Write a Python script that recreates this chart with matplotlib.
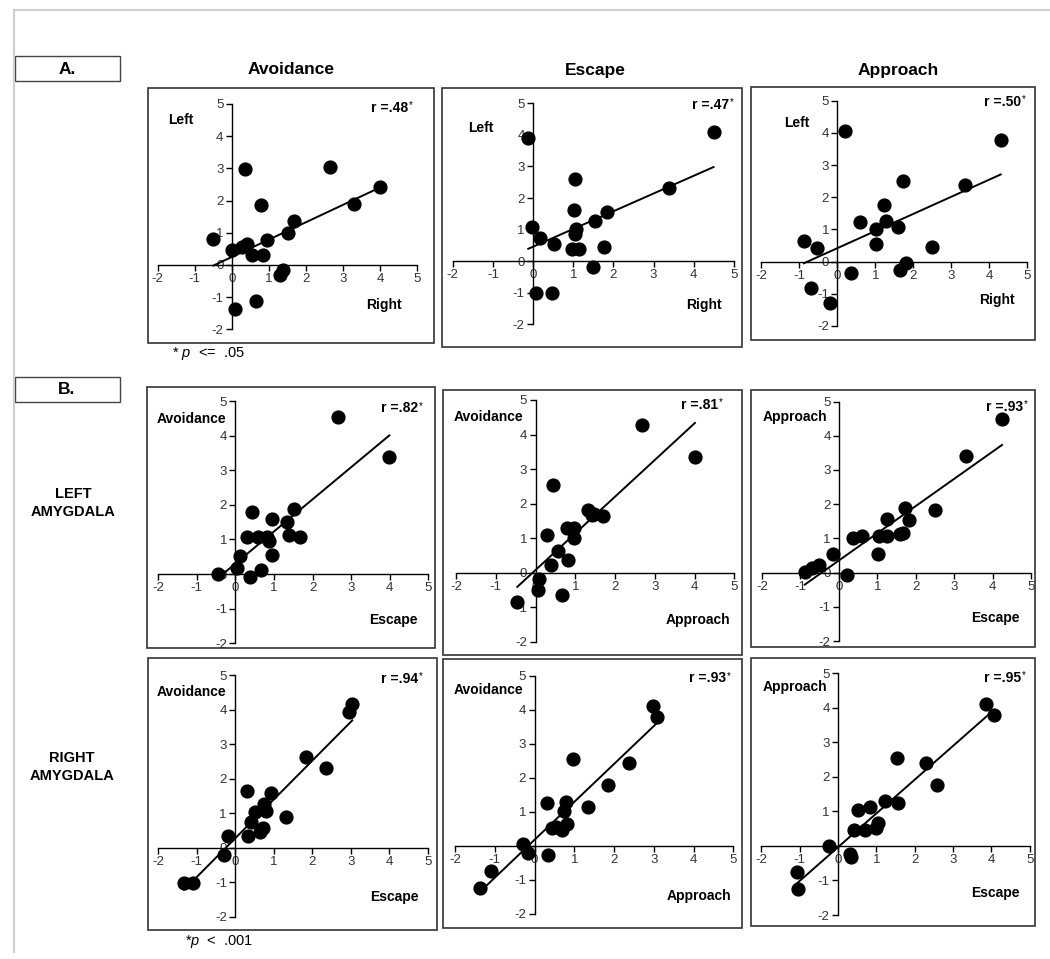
import numpy as np
import matplotlib.pyplot as plt
from matplotlib.patches import Rectangle
from matplotlib.lines import Line2D

plt.rcParams['font.family'] = ['Liberation Sans', 'DejaVu Sans']
plt.rcParams['mathtext.fontset'] = 'custom'
plt.rcParams['mathtext.rm'] = 'Liberation Sans'
plt.rcParams['mathtext.it'] = 'Liberation Sans:italic'
plt.rcParams['axes.unicode_minus'] = False

W, H = 1050, 959

###################### data

# A. left vs right amygdala
avoid_lr_x = [-0.50, 0.01, 0.26, 0.42, 0.55, 0.83, 0.96, 0.35, 0.79, 1.51, 1.67, 1.37, 1.30, 0.09, 0.65, 2.65, 3.28, 4.00]
avoid_lr_y = [0.80, 0.45, 0.55, 0.64, 0.31, 0.31, 0.76, 2.97, 1.86, 0.98, 1.35, -0.16, -0.31, -1.36, -1.12, 3.05, 1.89, 2.41]

escape_lr_x = [-0.12, -0.03, 0.17, 0.52, 0.07, 0.46, 1.04, 1.03, 1.07, 1.04, 0.98, 1.14, 1.53, 1.83, 1.77, 1.50, 3.39, 4.49]
escape_lr_y = [3.91, 1.07, 0.72, 0.54, -1.02, -1.02, 2.60, 1.62, 1.02, 0.86, 0.37, 0.37, 1.27, 1.55, 0.44, -0.17, 2.31, 4.10]

approach_lr_x = [0.21, -0.88, -0.53, -0.70, -0.18, 0.37, 0.61, 1.01, 1.03, 1.23, 1.27, 1.61, 1.73, 1.64, 1.82, 2.50, 3.35, 4.30]
approach_lr_y = [4.06, 0.64, 0.43, -0.81, -1.29, -0.34, 1.22, 1.01, 0.54, 1.76, 1.26, 1.09, 2.51, -0.26, -0.05, 0.45, 2.38, 3.78]

# B. left amygdala
left_av_esc_x = [-0.46, 0.03, 0.12, 0.39, 0.66, 0.29, 0.58, 0.81, 0.87, 0.44, 0.94, 0.94, 1.33, 1.39, 1.52, 1.67, 2.67, 3.99]
left_av_esc_y = [0.00, 0.18, 0.52, -0.08, 0.12, 1.08, 1.06, 1.08, 0.96, 1.80, 1.58, 0.55, 1.49, 1.13, 1.87, 1.08, 4.53, 3.39]

left_av_app_x = [-0.46, 0.05, 0.10, 0.66, 0.39, 0.57, 0.82, 0.30, 0.45, 0.78, 0.98, 0.98, 1.33, 1.48, 1.69, 1.41, 2.67, 4.01]
left_av_app_y = [-0.85, -0.49, -0.17, -0.66, 0.23, 0.63, 0.38, 1.08, 2.53, 1.28, 1.29, 1.00, 1.81, 1.71, 1.63, 1.66, 4.29, 3.35]

left_app_esc_x = [-0.89, -0.69, -0.52, -0.16, 0.21, 0.36, 0.61, 1.01, 1.04, 1.26, 1.26, 1.60, 1.66, 1.71, 1.81, 2.50, 3.31, 4.24]
left_app_esc_y = [0.01, 0.15, 0.22, 0.54, -0.07, 1.00, 1.07, 0.56, 1.07, 1.56, 1.07, 1.12, 1.17, 1.88, 1.54, 1.83, 3.41, 4.49]

# B. right amygdala
right_av_esc_x = [-1.33, -1.09, -0.29, -0.18, 0.34, 0.31, 0.42, 0.51, 0.64, 0.73, 0.75, 0.79, 0.94, 1.33, 1.83, 2.36, 2.96, 3.04]
right_av_esc_y = [-1.03, -1.03, -0.21, 0.35, 0.35, 1.65, 0.75, 1.04, 0.46, 0.58, 1.26, 1.06, 1.57, 0.88, 2.62, 2.32, 3.92, 4.15]

right_av_app_x = [-1.37, -1.10, -0.28, -0.16, 0.35, 0.31, 0.43, 0.54, 0.68, 0.73, 0.79, 0.81, 0.98, 1.34, 1.86, 2.38, 2.97, 3.07]
right_av_app_y = [-1.24, -0.75, 0.04, -0.21, -0.27, 1.25, 0.51, 0.56, 0.46, 1.02, 1.29, 0.63, 2.55, 1.13, 1.80, 2.42, 4.12, 3.79]

right_app_esc_x = [-1.06, -1.04, -0.23, 0.32, 0.33, 0.43, 0.70, 0.52, 0.83, 0.98, 1.04, 1.22, 1.57, 1.54, 2.29, 2.57, 3.87, 4.07]
right_app_esc_y = [-0.76, -1.25, 0.00, -0.24, -0.31, 0.46, 0.46, 1.04, 1.12, 0.53, 0.66, 1.30, 1.24, 2.54, 2.39, 1.77, 4.10, 3.79]

r_labels = ['r =.48', 'r =.47', 'r =.50',
            'r =.82', 'r =.81', 'r =.93',
            'r =.94', 'r =.93', 'r =.95']
y_names = ['Left', 'Left', 'Left',
           'Avoidance', 'Avoidance', 'Approach',
           'Avoidance', 'Avoidance', 'Approach']
x_names = ['Right', 'Right', 'Right',
           'Escape', 'Approach', 'Escape',
           'Escape', 'Approach', 'Escape']
col_titles = ['Avoidance', 'Escape', 'Approach']

xs = [avoid_lr_x, escape_lr_x, approach_lr_x,
      left_av_esc_x, left_av_app_x, left_app_esc_x,
      right_av_esc_x, right_av_app_x, right_app_esc_x]
ys = [avoid_lr_y, escape_lr_y, approach_lr_y,
      left_av_esc_y, left_av_app_y, left_app_esc_y,
      right_av_esc_y, right_av_app_y, right_app_esc_y]

###################### layout (pixels)

# panel frame: left, top, right, bottom
frames = [(148, 88, 434, 343), (442, 88, 742, 347), (751, 87, 1035, 340),
          (147, 387, 435, 648), (443, 390, 742, 655), (751, 390, 1035, 647),
          (148, 658, 437, 930), (443, 659, 742, 928), (751, 658, 1035, 926)]
# axes -2..5 extents: x(-2), x(5), y(5), y(-2)
extents = [(157.7, 417.3, 104.0, 329.3), (452.7, 734.0, 103.3, 324.3), (761.3, 1027.3, 100.7, 326.0),
           (158.3, 428.3, 401.1, 643.2), (456.0, 734.3, 400.0, 641.7), (762.0, 1031.3, 401.5, 641.2),
           (158.3, 427.7, 675.0, 916.7), (455.0, 733.3, 675.7, 913.7), (761.3, 1029.7, 673.3, 915.0)]
ylab_pos = [(-1.72, 4.49), (-1.61, 4.21), (-1.39, 4.30),
            (-2.04, 4.48), (-2.07, 4.51), (-1.97, 4.55),
            (-2.05, 4.52), (-2.04, 4.58), (-1.96, 4.59)]
xlab_pos = [(4.58, -1.26), (4.69, -1.39), (4.68, -1.19),
            (4.73, -1.33), (4.91, -1.38), (4.70, -1.33),
            (4.76, -1.44), (4.96, -1.47), (4.74, -1.37)]
r_pos = [(4.75, 4.87), (4.88, 4.95), (4.83, 4.95),
         (4.73, 4.79), (4.60, 4.85), (4.80, 4.85),
         (4.74, 4.88), (4.82, 4.92), (4.77, 4.87)]


def fig_rect(x0, y0, x1, y1):
    return [x0 / W, 1 - y1 / H, (x1 - x0) / W, (y1 - y0) / H]


fig = plt.figure(figsize=(W / 100, H / 100), dpi=100)
fig.patch.set_facecolor('white')

# page edges
fig.add_artist(Line2D([14 / W, 14 / W], [1 - 10 / H, 1 - 952 / H], color='#cfcfcf', lw=1.5))
fig.add_artist(Line2D([14 / W, 1.0], [1 - 10 / H, 1 - 10 / H], color='#cfcfcf', lw=1.5))

####################
for i in range(9):
    x = np.array(xs[i])
    y = np.array(ys[i])

    fl, ft, fr, fb = frames[i]
    r = fig_rect(fl, ft, fr, fb)
    fig.add_artist(Rectangle((r[0], r[1]), r[2], r[3], transform=fig.transFigure,
                             fill=False, ec='#333333', lw=1.2))

    xl, xr, yt, yb = extents[i]
    ax = fig.add_axes(fig_rect(xl, yt, xr, yb))
    ax.patch.set_alpha(0)
    ax.set_xlim(-2, 5)
    ax.set_ylim(-2, 5)
    ax.spines['left'].set_position(('data', 0))
    ax.spines['bottom'].set_position(('data', 0))
    ax.spines['top'].set_visible(False)
    ax.spines['right'].set_visible(False)
    for s in ['left', 'bottom']:
        ax.spines[s].set_linewidth(1.0)
    ax.set_xticks(range(-2, 6))
    ax.set_yticks(range(-2, 6))
    ax.tick_params(direction='out', length=4, width=1, labelsize=9.5,
                   labelcolor='#333333', pad=2)

    ax.scatter(x, y, s=85, c='black', zorder=3, clip_on=False)
    slope, icpt = np.polyfit(x, y, 1)
    xx = np.array([x.min(), x.max()])
    ax.plot(xx, slope * xx + icpt, color='black', lw=1.4, zorder=2)

    ax.text(ylab_pos[i][0], ylab_pos[i][1], y_names[i], ha='left', va='center',
            fontweight='bold', fontsize=10)
    ax.text(xlab_pos[i][0], xlab_pos[i][1], x_names[i], ha='right', va='center',
            fontweight='bold', fontsize=10)
    ax.text(r_pos[i][0], r_pos[i][1], r_labels[i], ha='right', va='center',
            fontweight='bold', fontsize=10)
    ax.annotate('*', xy=r_pos[i], xytext=(0.5, 2), textcoords='offset points',
                ha='left', va='center', fontsize=7)

####################
col_x = [291, 595, 898]
for t, cx in zip(col_titles, col_x):
    fig.text(cx / W, 1 - 70 / H, t, ha='center', va='center', fontweight='bold', fontsize=12.5)

for lab, top in [('A.', 56), ('B.', 377)]:
    r = fig_rect(15, top, 120, top + 25)
    fig.add_artist(Rectangle((r[0], r[1]), r[2], r[3], transform=fig.transFigure,
                             fill=False, ec='#444444', lw=1.0))
    fig.text(67 / W, 1 - (top + 13) / H, lab, ha='center', va='center',
             fontweight='bold', fontsize=12.5)

fig.text(73 / W, 1 - 503 / H, 'LEFT\nAMYGDALA', ha='center', va='center',
         fontweight='bold', fontsize=10.5, linespacing=1.3)
fig.text(72 / W, 1 - 767 / H, 'RIGHT\nAMYGDALA', ha='center', va='center',
         fontweight='bold', fontsize=10.5, linespacing=1.3)

fig.text(172 / W, 1 - 353 / H, r'* $\it{p}$  <=  .05', ha='left', va='center', fontsize=10.5)
fig.text(185 / W, 1 - 942 / H, r'*$\it{p}$  <  .001', ha='left', va='center', fontsize=10.5)

plt.savefig('out.png', dpi=100)
